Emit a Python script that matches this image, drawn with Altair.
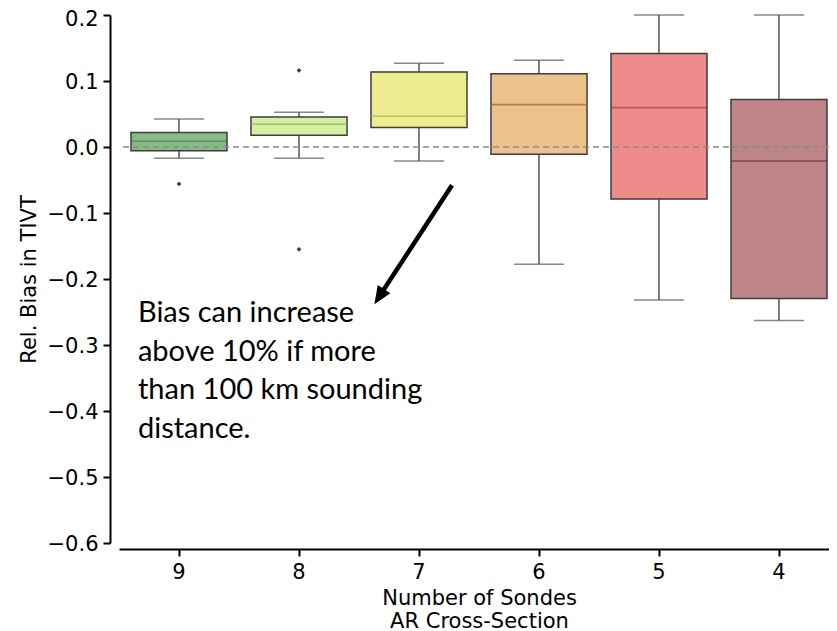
import altair as alt
import pandas as pd

# ---- data ----
categories = ["9", "8", "7", "6", "5", "4"]
q1 = [-0.0055, 0.0177, 0.0294, -0.0110, -0.0788, -0.2297]
q3 = [0.0218, 0.0455, 0.1136, 0.1110, 0.1415, 0.0718]
medians = [0.0086, 0.0344, 0.0465, 0.0642, 0.0597, -0.0212]
whisker_low = [-0.0171, -0.0170, -0.0212, -0.1777, -0.2318, -0.2630]
whisker_high = [0.0424, 0.0526, 0.1268, 0.1314, 0.2000, 0.2000]
fill_colors = ["#8aba84", "#d4f0a0", "#eeec8e", "#edc28c", "#ee8b8b", "#bd8585"]
median_colors = ["#4f7f4a", "#8ca85e", "#a9a655", "#a0642c", "#a83a3a", "#6b2a2a"]

outlier_cats = ["9", "8", "8"]
outlier_vals = [-0.056, 0.116, -0.155]

zero_line = [0.0]

# annotation (in band units along x, data units along y)
arrow_x = [2.775, 2.19]
arrow_y = [-0.058, -0.2206]
head_x = [2.1275]
head_y = [-0.2383]
note_x = [0.158]
note_y = [-0.2656]
note_text = ["Bias can increase\nabove 10% if more\nthan 100 km sounding\ndistance."]

y_title = "Rel. Bias in TIVT"
x_title = ["Number of Sondes", "AR Cross-Section"]
y_ticks = [-0.6, -0.5, -0.4, -0.3, -0.2, -0.1, 0.0, 0.1, 0.2]

# ---- tables ----
box_df = pd.DataFrame({
    "n": categories, "q1": q1, "q3": q3, "med": medians,
    "wl": whisker_low, "wh": whisker_high,
    "fill": fill_colors, "mcol": median_colors,
})
out_df = pd.DataFrame({"n": outlier_cats, "v": outlier_vals})
zero_df = pd.DataFrame({"v": zero_line})
arrow_df = pd.DataFrame({"ax": arrow_x, "ay": arrow_y, "o": list(range(len(arrow_x)))})
head_df = pd.DataFrame({"ax": head_x, "ay": head_y})
note_df = pd.DataFrame({"ax": note_x, "ay": note_y, "t": note_text})

FONT = "DejaVu Sans"
RANGE_X = [0, 720]

yscale = alt.Scale(domain=[-0.6, 0.2], nice=False, zero=False)
yaxis = alt.Axis(
    values=y_ticks, format=".1f", grid=False, offset=9,
    domainColor="black", domainWidth=2, tickColor="black", tickWidth=2, tickSize=7,
    labelFont=FONT, labelFontSize=21, labelColor="black", labelPadding=5,
    labelOffset={"condition": {"test": "datum.value >= 0.15", "value": 4}, "value": 1},
    titleFont=FONT, titleFontSize=21, titleFontWeight="normal", titleColor="black",
    titlePadding=8,
)
xscale = alt.Scale(domain=categories, range=RANGE_X, paddingInner=0, paddingOuter=0)
xaxis = alt.Axis(
    labelAngle=0, grid=False, offset=6,
    domainColor="black", domainWidth=2, tickColor="black", tickWidth=2, tickSize=7,
    labelFont=FONT, labelFontSize=21, labelColor="black", labelPadding=5,
    titleFont=FONT, titleFontSize=21, titleFontWeight="normal", titleColor="black",
    titlePadding=5, titleLineHeight=23,
)


def X():
    return alt.X("n:N", sort=categories, scale=xscale, axis=xaxis, title=x_title)


def Y(field):
    return alt.Y(field, type="quantitative", scale=yscale, axis=yaxis, title=y_title)


base = alt.Chart(box_df)

lower_whisker = base.mark_rule(color="#555555", strokeWidth=1.5).encode(
    x=X(), y=Y("wl"), y2="q1")
upper_whisker = base.mark_rule(color="#555555", strokeWidth=1.5).encode(
    x=X(), y=Y("q3"), y2="wh")
low_cap = base.mark_tick(color="#555555", thickness=1.5, size=50).encode(x=X(), y=Y("wl"))
high_cap = base.mark_tick(color="#555555", thickness=1.5, size=50).encode(x=X(), y=Y("wh"))
boxes = base.mark_bar(width=alt.RelativeBandSize(0.8), stroke="#3d3d3d", strokeWidth=1.5).encode(
    x=X(), y=Y("q1"), y2="q3", fill=alt.Fill("fill:N", scale=None))
med = base.mark_tick(thickness=1.6, size=96).encode(
    x=X(), y=Y("med"), color=alt.Color("mcol:N", scale=None))
outliers = alt.Chart(out_df).mark_point(
    shape="diamond", filled=True, size=22, color="#3d3d3d", opacity=1).encode(
    x=X(), y=Y("v"))

box_layer = alt.layer(lower_whisker, upper_whisker, low_cap, high_cap, boxes, med, outliers)

zero_rule = alt.Chart(zero_df).mark_rule(
    color="#8a8a8a", strokeWidth=1.5, strokeDash=[6, 4]).encode(y=Y("v"))

xq = alt.X("ax:Q", scale=alt.Scale(domain=[0, 6], range=RANGE_X, nice=False, zero=False), axis=None)

arrow_line = alt.Chart(arrow_df).mark_line(color="black", strokeWidth=4.5, strokeCap="butt").encode(
    x=xq, y=Y("ay"), order="o:Q")
arrow_head = alt.Chart(head_df).mark_point(
    shape="M0,0L-0.75,1.8L0.75,1.8Z", filled=True, size=400, color="black", opacity=1,
    angle=213, strokeWidth=0).encode(x=xq, y=Y("ay"))
note = alt.Chart(note_df).mark_text(
    align="left", baseline="alphabetic", font="Lato", fontSize=29, lineHeight=38.5,
    lineBreak="\n", color="black").encode(x=xq, y=Y("ay"), text="t:N")

annot = alt.layer(arrow_line, arrow_head, note)

chart = alt.layer(box_layer, zero_rule, annot).resolve_scale(x="independent").properties(
    width=710, height=528,
    autosize=alt.AutoSizeParams(type="none"),
    padding={"left": 111, "top": 7, "right": 0, "bottom": 88},
).configure(background="white").configure_view(stroke=None)

chart.save("out.html", embed_options={"renderer": "svg", "actions": False})
